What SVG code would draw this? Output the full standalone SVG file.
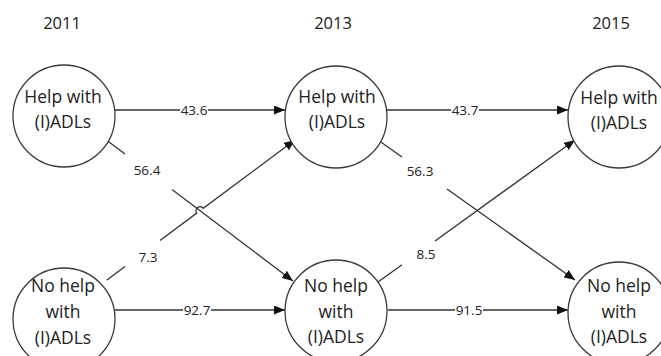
<svg xmlns="http://www.w3.org/2000/svg" width="661" height="356" viewBox="0 0 661 356">
<style>
.node circle{fill:#fff;stroke:#3a3a3a;stroke-width:1.3}
.nt{font-family:"Open Sans","Liberation Sans",sans-serif;font-size:17.5px;fill:#222;text-anchor:middle}
.yr{font-family:"Open Sans","Liberation Sans",sans-serif;font-size:16.5px;fill:#222;text-anchor:middle}
.lb{font-family:"Open Sans","Liberation Sans",sans-serif;font-size:13.5px;fill:#222;text-anchor:middle}
.c{fill:none;stroke:#333;stroke-width:1.3}
</style>
<defs>
<marker id="ah" markerUnits="userSpaceOnUse" markerWidth="11" markerHeight="9" refX="11" refY="4.5" orient="auto">
<path d="M0,0 L11,4.5 L0,9 z" fill="#111"/>
</marker>
</defs>
<rect width="661" height="356" fill="#fff"/>
<g id="years">
<text class="yr" x="62" y="29">2011</text>
<text class="yr" x="333" y="29">2013</text>
<text class="yr" x="611" y="29">2015</text>
</g>
<g id="connectors">
<path class="c" d="M115,110 L180,110 M208,110 L285,110" marker-end="url(#ah)"/>
<path class="c" d="M387,110 L451,110 M479,110 L568,110" marker-end="url(#ah)"/>
<path class="c" d="M115,310 L183,310 M211,310 L285,310" marker-end="url(#ah)"/>
<path class="c" d="M388,310 L455,310 M483,310 L568,310" marker-end="url(#ah)"/>
<path class="c" d="M105,139 L125,154 M172,189.6 L293,281" marker-end="url(#ah)"/>
<path class="c" d="M107,280 L125,266.6 M160,240.5 L196.8,213.1 A4,4 0 0,1 203.2,208.3 L295,140" marker-end="url(#ah)"/>
<path class="c" d="M378,140 L402,157 M447,189 L575,280" marker-end="url(#ah)"/>
<path class="c" d="M378,282 L402,264.7 M435,241 L575,140" marker-end="url(#ah)"/>
<text class="lb" x="194" y="115">43.6</text>
<text class="lb" x="465" y="115">43.7</text>
<text class="lb" x="197" y="315">92.7</text>
<text class="lb" x="469" y="315">91.5</text>
<text class="lb" x="147" y="175">56.4</text>
<text class="lb" x="148" y="262">7.3</text>
<text class="lb" x="420" y="176">56.3</text>
<text class="lb" x="426" y="259">8.5</text>
</g>
<g id="n2011help" class="node">
<circle cx="64" cy="116" r="51"/>
<text class="nt" x="63" y="103">Help with</text>
<text class="nt" x="63" y="128">(I)ADLs</text>
</g>
<g id="n2013help" class="node">
<circle cx="336" cy="117" r="51"/>
<text class="nt" x="337" y="103">Help with</text>
<text class="nt" x="337" y="128">(I)ADLs</text>
</g>
<g id="n2015help" class="node">
<circle cx="619" cy="117" r="51"/>
<text class="nt" x="619" y="104">Help with</text>
<text class="nt" x="619" y="129">(I)ADLs</text>
</g>
<g id="n2011nohelp" class="node">
<circle cx="64" cy="319" r="51"/>
<text class="nt" x="63" y="292">No help</text>
<text class="nt" x="63" y="318">with</text>
<text class="nt" x="63" y="344">(I)ADLs</text>
</g>
<g id="n2013nohelp" class="node">
<circle cx="336" cy="311" r="51"/>
<text class="nt" x="336" y="292">No help</text>
<text class="nt" x="336" y="318">with</text>
<text class="nt" x="336" y="343">(I)ADLs</text>
</g>
<g id="n2015nohelp" class="node">
<circle cx="619" cy="313" r="51"/>
<text class="nt" x="619" y="292">No help</text>
<text class="nt" x="619" y="318">with</text>
<text class="nt" x="619" y="343">(I)ADLs</text>
</g>
</svg>
